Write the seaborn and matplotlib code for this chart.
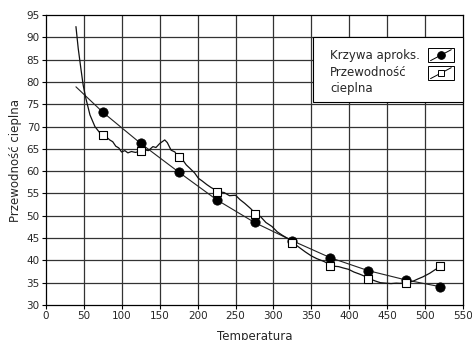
import matplotlib
matplotlib.use("Agg")
import matplotlib.pyplot as plt
import pandas as pd
import seaborn as sns
from matplotlib.lines import Line2D
from matplotlib.patches import Rectangle

# marker positions (temperature)
marker_temp = [75, 125, 175, 225, 275, 325, 375, 425, 475, 520]
approx_vals = [73.2, 66.2, 59.8, 53.6, 48.5, 44.4, 40.6, 37.7, 35.6, 34.1]
measured_marker_vals = [68.0, 64.5, 63.2, 55.4, 50.5, 43.8, 38.7, 35.8, 35.0, 38.8]

# approximation curve (line)
approx_line_temp = [39.5, 75, 125, 175, 225, 275, 325, 375, 425, 475, 520]
approx_line_vals = [78.9, 73.2, 66.2, 59.8, 53.6, 48.5, 44.4, 40.6, 37.7, 35.6, 34.1]

# measured conductivity (noisy line)
measured_temp = [39.5, 42.5, 46, 49, 52.6, 58, 64.5, 70, 75, 80, 84, 88, 92, 96,
                 99.6, 104, 108, 112.7, 118, 125, 130, 135, 141, 145, 150, 156.6,
                 160, 165, 170, 174, 180, 185, 190, 196, 201, 206, 212, 218, 228,
                 235, 242, 250, 256, 262, 270, 276, 283, 290, 298, 305, 312, 320,
                 327, 334, 342, 350, 357, 366, 372, 379, 386, 392, 399, 406, 414,
                 421, 428, 434, 441, 448, 455, 462, 467, 473, 478, 485, 490, 497,
                 506, 514, 522]
measured_vals = [92.4, 87.5, 83.0, 79.3, 76.3, 72.6, 70.0, 68.8, 68.0, 67.6, 67.0,
                 66.6, 65.6, 65.2, 64.3, 64.6, 64.1, 64.4, 64.2, 64.5, 64.8, 64.6,
                 65.5, 65.3, 66.2, 67.0, 66.4, 64.7, 64.3, 63.2, 62.6, 61.4, 60.6,
                 59.6, 58.4, 57.8, 57.0, 56.3, 55.4, 55.2, 54.5, 54.6, 53.6, 52.8,
                 51.6, 50.5, 49.8, 48.5, 47.6, 46.4, 45.6, 44.8, 43.8, 42.9, 41.9,
                 41.0, 40.4, 39.8, 39.3, 38.7, 38.6, 38.3, 38.0, 37.4, 36.9, 36.4,
                 35.8, 35.4, 35.0, 34.9, 34.8, 34.9, 34.85, 35.0, 35.0, 35.4, 35.8,
                 36.3, 37.1, 38.0, 38.8]

x_ticks = list(range(0, 551, 50))
y_ticks = list(range(30, 96, 5))
legend_labels = ["Krzywa aproks.", "Przewodność", "cieplna"]

df_approx_line = pd.DataFrame({"temp": approx_line_temp, "val": approx_line_vals})
df_meas_line = pd.DataFrame({"temp": measured_temp, "val": measured_vals})
df_markers = pd.DataFrame({
    "temp": marker_temp,
    "approx": approx_vals,
    "measured": measured_marker_vals,
})

sns.set_theme(style="white")
plt.rcParams["font.family"] = ["DejaVu Sans"]

fig = plt.figure(figsize=(4.72, 3.40), dpi=100)
ax = fig.add_axes([46 / 472, 1 - 305 / 340, 417 / 472, 290 / 340])

grid_color = "#333333"
for xv in x_ticks[1:-1]:
    ax.axvline(xv, color=grid_color, lw=0.9, zorder=0)
for yv in y_ticks[1:-1]:
    ax.axhline(yv, color=grid_color, lw=0.9, zorder=0)

sns.lineplot(data=df_approx_line, x="temp", y="val", ax=ax, color="#222222",
             lw=0.8, sort=False, zorder=2)
sns.lineplot(data=df_meas_line, x="temp", y="val", ax=ax, color="#111111",
             lw=0.9, sort=False, zorder=2)
sns.scatterplot(data=df_markers, x="temp", y="approx", ax=ax, marker="o",
                color="black", s=45, edgecolor="black", zorder=3)
sns.scatterplot(data=df_markers, x="temp", y="measured", ax=ax, marker="s",
                color="white", s=40, edgecolor="black", linewidth=0.8, zorder=3)

ax.set_xlim(0, 550)
ax.set_ylim(30, 95)
ax.set_xticks(x_ticks)
ax.set_yticks(y_ticks)
ax.tick_params(axis="both", labelsize=7.5, length=3, width=0.8, direction="out",
               color="black", pad=1.5, bottom=True, left=True)
for sp in ax.spines.values():
    sp.set_color("black")
    sp.set_linewidth(0.9)

ax.set_xlabel("Temperatura", fontsize=8.5, labelpad=6)
ax.set_ylabel("Przewodność cieplna", fontsize=8.5, labelpad=3)

# legend drawn by hand: text on the left, small marker boxes on the right
tr = ax.transAxes
ax.add_patch(Rectangle((0.640, 0.700), 0.36, 0.224, transform=tr,
                       facecolor="white", edgecolor="black", lw=0.8,
                       zorder=5, clip_on=False))
for label, ty in zip(legend_labels, [0.862, 0.803, 0.745]):
    ax.text(0.681, ty, label, transform=tr, fontsize=8.5, ha="left",
            va="center", zorder=6)

icon_boxes = [(0.916, 0.838), (0.916, 0.776)]
icon_w, icon_h = 0.062, 0.047
icon_styles = [dict(marker="o", markersize=5.5, markerfacecolor="black"),
               dict(marker="s", markersize=5, markerfacecolor="white")]
for (bx, by), style in zip(icon_boxes, icon_styles):
    ax.add_patch(Rectangle((bx, by), icon_w, icon_h, transform=tr,
                           facecolor="white", edgecolor="black", lw=0.7,
                           zorder=6))
    ax.add_line(Line2D([bx + 0.1 * icon_w, bx + 0.9 * icon_w],
                       [by + 0.1 * icon_h, by + 0.9 * icon_h],
                       transform=tr, color="black", lw=0.7, zorder=7))
    ax.add_line(Line2D([bx + 0.5 * icon_w], [by + 0.5 * icon_h],
                       transform=tr, color="black", lw=0,
                       markeredgecolor="black", markeredgewidth=0.7,
                       zorder=8, **style))

fig.savefig("out.png", dpi=100)
